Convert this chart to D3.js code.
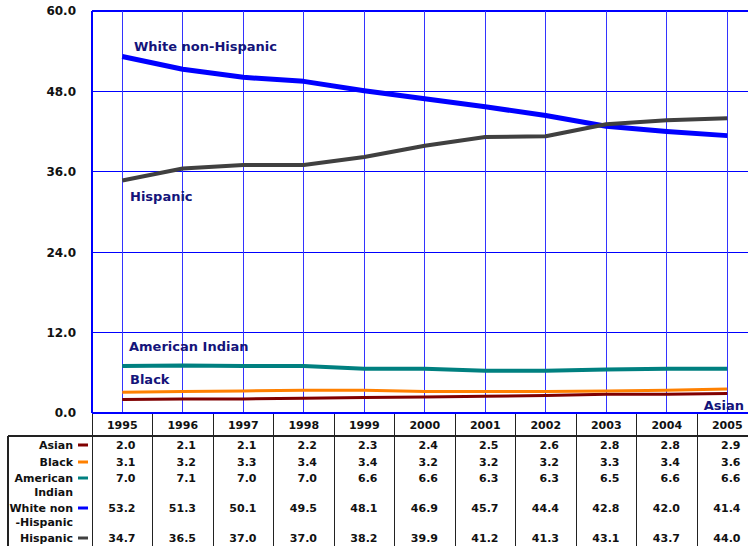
<!DOCTYPE html>
<html>
<head>
<meta charset="utf-8">
<script src="https://cdn.jsdelivr.net/npm/d3@7"></script>
<style>
  html, body { margin: 0; padding: 0; background: #fff; }
  svg { display: block; font-family: "DejaVu Sans", Verdana, sans-serif; font-weight: bold; }
</style>
</head>
<body>
<svg id="chart" width="748" height="546"></svg>
<script>
const years = ["1995","1996","1997","1998","1999","2000","2001","2002","2003","2004","2005"];
const asian = [2.0, 2.1, 2.1, 2.2, 2.3, 2.4, 2.5, 2.6, 2.8, 2.8, 2.9];
const black = [3.1, 3.2, 3.3, 3.4, 3.4, 3.2, 3.2, 3.2, 3.3, 3.4, 3.6];
const americanIndian = [7.0, 7.1, 7.0, 7.0, 6.6, 6.6, 6.3, 6.3, 6.5, 6.6, 6.6];
const whiteNonHispanic = [53.2, 51.3, 50.1, 49.5, 48.1, 46.9, 45.7, 44.4, 42.8, 42.0, 41.4];
const hispanic = [34.7, 36.5, 37.0, 37.0, 38.2, 39.9, 41.2, 41.3, 43.1, 43.7, 44.0];
const yTicks = [0, 12, 24, 36, 48, 60];

const series = [
  { key: "Asian", rowLabel: ["Asian"], values: asian, color: "#800000", width: 3 },
  { key: "Black", rowLabel: ["Black"], values: black, color: "#ff8000", width: 3 },
  { key: "American Indian", rowLabel: ["American", "Indian"], values: americanIndian, color: "#008080", width: 4 },
  { key: "White non-Hispanic", rowLabel: ["White non", "-Hispanic"], values: whiteNonHispanic, color: "#0000ff", width: 5 },
  { key: "Hispanic", rowLabel: ["Hispanic"], values: hispanic, color: "#404040", width: 4 }
];

const svg = d3.select("#chart");
const plotLeft = 92, plotTop = 11, plotBottom = 413, colW = 60.5;
const plotRight = plotLeft + colW * years.length;

const x = d3.scaleBand().domain(years).range([plotLeft, plotRight]).padding(0);
const y = d3.scaleLinear().domain([0, 60]).range([plotBottom, plotTop]);
const cx = d => x(d) + x.bandwidth() / 2;

const grid = svg.append("g");
// horizontal gridlines
grid.selectAll("line.h").data(yTicks).join("line")
  .attr("x1", plotLeft).attr("x2", plotRight)
  .attr("y1", d => y(d)).attr("y2", d => y(d))
  .attr("stroke", "#0000ff").attr("stroke-width", 1.2).attr("shape-rendering", "crispEdges");
// vertical gridlines through each year
grid.selectAll("line.v").data(years).join("line")
  .attr("x1", d => cx(d)).attr("x2", d => cx(d))
  .attr("y1", plotTop).attr("y2", plotBottom)
  .attr("stroke", "#3333ff").attr("stroke-width", 1).attr("shape-rendering", "crispEdges");
grid.append("line").attr("x1", plotLeft).attr("x2", plotLeft).attr("y1", plotTop).attr("y2", plotBottom)
  .attr("stroke", "#0000ff").attr("stroke-width", 1.2).attr("shape-rendering", "crispEdges");

// y axis labels
const yAxis = d3.axisLeft(y).tickValues(yTicks).tickFormat(d3.format(".1f")).tickSize(0).tickPadding(16);
const ya = svg.append("g").attr("transform", `translate(${plotLeft},0)`).call(yAxis);
ya.select(".domain").remove();
ya.selectAll("text").attr("font-family", "DejaVu Sans, Verdana, sans-serif").attr("font-weight", "bold")
  .attr("font-size", 12).attr("fill", "#111");

// series lines
const line = d3.line().x((d, i) => cx(years[i])).y(d => y(d));
svg.append("g").selectAll("path").data(series).join("path")
  .attr("d", s => line(s.values))
  .attr("fill", "none").attr("stroke", s => s.color).attr("stroke-width", s => s.width)
  .attr("stroke-linejoin", "round");

// in-plot series labels
const labelColor = "#14147a";
const inLabels = [
  { text: "White non-Hispanic", x: 134, y: 51, anchor: "start" },
  { text: "Hispanic", x: 130, y: 201, anchor: "start" },
  { text: "American Indian", x: 129, y: 351, anchor: "start" },
  { text: "Black", x: 130, y: 384, anchor: "start" },
  { text: "Asian", x: 744, y: 410, anchor: "end" }
];
svg.append("g").selectAll("text").data(inLabels).join("text")
  .attr("x", d => d.x).attr("y", d => d.y).attr("text-anchor", d => d.anchor)
  .attr("font-size", 13).attr("fill", labelColor).text(d => d.text);

// data table
const table = svg.append("g").attr("font-size", 11).attr("fill", "#111");
const headerBottom = 436;
const rowCenters = [[445], [462], [478, 492], [508, 522], [538]];
// table rules
table.selectAll("line.col").data(d3.range(years.length + 1)).join("line")
  .attr("x1", i => plotLeft + i * colW).attr("x2", i => plotLeft + i * colW)
  .attr("y1", plotBottom).attr("y2", 546)
  .attr("stroke", "#222").attr("stroke-width", 1).attr("shape-rendering", "crispEdges");
table.append("line").attr("x1", 8).attr("x2", plotRight).attr("y1", headerBottom).attr("y2", headerBottom)
  .attr("stroke", "#222").attr("stroke-width", 1.3).attr("shape-rendering", "crispEdges");
table.append("line").attr("x1", 8).attr("x2", 8).attr("y1", headerBottom).attr("y2", 546)
  .attr("stroke", "#222").attr("stroke-width", 1.3).attr("shape-rendering", "crispEdges");
// zero line drawn over the table rules
svg.append("line").attr("x1", plotLeft).attr("x2", plotRight).attr("y1", plotBottom).attr("y2", plotBottom)
  .attr("stroke", "#0000ff").attr("stroke-width", 1.5).attr("shape-rendering", "crispEdges");

// year header
table.selectAll("text.year").data(years).join("text")
  .attr("x", d => cx(d)).attr("y", 429).attr("text-anchor", "middle").text(d => d);

// row labels, swatches and values
series.forEach((s, r) => {
  const ys = rowCenters[r];
  s.rowLabel.forEach((t, k) => {
    table.append("text").attr("x", 73).attr("y", ys[k] + 4).attr("text-anchor", "end").text(t);
  });
  table.append("line").attr("x1", 78).attr("x2", 88).attr("y1", ys[0]).attr("y2", ys[0])
    .attr("stroke", s.color).attr("stroke-width", 3);
  table.selectAll(null).data(s.values).join("text")
    .attr("x", (d, i) => x(years[i]) + colW - 17).attr("y", ys[0] + 4)
    .attr("text-anchor", "end").text(d => d3.format(".1f")(d));
});
</script>
</body>
</html>
